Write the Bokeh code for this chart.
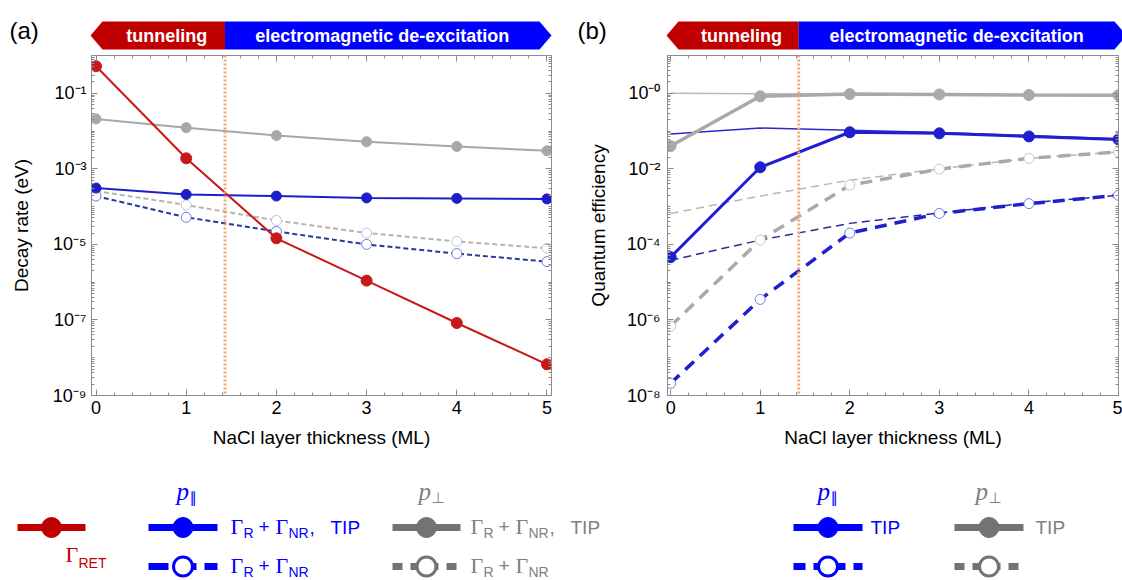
from bokeh.plotting import figure
from bokeh.models import (Range1d, Span, FixedTicker, SingleIntervalTicker,
                          CustomJSTickFormatter, LogAxis, LinearAxis)
from bokeh.layouts import column, row
from bokeh.core.properties import value
from bokeh.embed import file_html
from bokeh.resources import INLINE

# ---------------- data ----------------
layers = [0, 1, 2, 3, 4, 5]
boundary = 1.43  # tunneling / electromagnetic de-excitation boundary (ML)

# panel (a): decay rates (eV)
a_ret = [0.52, 1.9e-3, 1.45e-5, 1.1e-6, 8.3e-8, 6.7e-9]
a_perp_tip = [0.021, 0.0123, 7.6e-3, 5.2e-3, 3.9e-3, 3.0e-3]
a_par_tip = [3.1e-4, 2.1e-4, 1.9e-4, 1.7e-4, 1.65e-4, 1.6e-4]
a_perp = [2.6e-4, 1.1e-4, 4.3e-5, 2.0e-5, 1.2e-5, 7.9e-6]
a_par = [1.9e-4, 5.2e-5, 2.2e-5, 1.0e-5, 5.7e-6, 3.5e-6]

# panel (b): quantum efficiency
b_perp_tip = [0.04, 0.83, 0.95, 0.93, 0.90, 0.89]
b_par_tip = [4.6e-5, 0.011, 0.093, 0.087, 0.072, 0.060]
b_perp = [6.9e-7, 1.3e-4, 3.7e-3, 9.8e-3, 0.019, 0.028]
b_par = [2.1e-8, 3.5e-6, 2.0e-4, 6.6e-4, 1.2e-3, 2.0e-3]
b_perp_thin = [1.0, 0.97, 0.95, 0.93, 0.91, 0.89]
b_par_thin = [0.083, 0.12, 0.105, 0.092, 0.076, 0.063]
b_perp_thin_dash = [6.6e-4, 1.9e-3, 5.0e-3, 1.0e-2, 1.9e-2, 2.8e-2]
b_par_thin_dash = [3.8e-5, 1.3e-4, 3.6e-4, 6.8e-4, 1.25e-3, 2.0e-3]

a_major = [1e-9, 1e-7, 1e-5, 1e-3, 1e-1]
b_major = [1e-8, 1e-6, 1e-4, 1e-2, 1e0]

# ---------------- style ----------------
FONT = "Liberation Sans"
SERIF = "Liberation Serif"
RED = "#c00000"
BLUE = "#0000ff"
FRAME = "#8c8c8c"

fmt_code = """
const sup = {"-": "\\u207B", "0": "\\u2070", "1": "\\u00B9", "2": "\\u00B2", "3": "\\u00B3",
             "4": "\\u2074", "5": "\\u2075", "6": "\\u2076", "7": "\\u2077", "8": "\\u2078", "9": "\\u2079"};
const e = Math.round(Math.log10(tick));
const s = (e === 0) ? "-0" : String(e);
let out = "10";
for (const c of s) { out += sup[c]; }
return out;
"""


def minor_list(lo, hi):
    return [m * 10.0 ** k for k in range(lo, hi) for m in range(1, 10)]


def main_fig(width, bl, br, xr, yr, ylabel, major, lo, hi, ystand, ylstand):
    p = figure(width=width, height=405, x_range=Range1d(*xr), y_range=Range1d(*yr),
               y_axis_type="log", output_backend="svg", toolbar_location=None,
               min_border_left=bl, min_border_right=br, min_border_top=2,
               min_border_bottom=63, background_fill_color="white",
               border_fill_color="white")
    p.grid.visible = False
    p.outline_line_color = FRAME
    p.outline_line_width = 1
    xa = p.xaxis[0]
    xa.ticker = SingleIntervalTicker(interval=1, num_minor_ticks=5)
    xa.axis_label = "NaCl layer thickness (ML)"
    ya = p.yaxis[0]
    ya.ticker = FixedTicker(ticks=major, minor_ticks=minor_list(lo, hi))
    ya.formatter = CustomJSTickFormatter(code=fmt_code)
    ya.axis_label = ylabel
    for ax, st, lst in ((xa, 5, 10), (ya, ystand, ylstand)):
        ax.major_tick_in = 6
        ax.major_tick_out = 0
        ax.minor_tick_in = 3
        ax.minor_tick_out = 0
        ax.axis_line_color = FRAME
        ax.major_tick_line_color = FRAME
        ax.minor_tick_line_color = FRAME
        ax.major_label_text_font = FONT
        ax.major_label_text_font_size = "18px"
        ax.major_label_text_color = "black"
        ax.major_label_standoff = st
        ax.axis_label_text_font = FONT
        ax.axis_label_text_font_size = "19px"
        ax.axis_label_text_font_style = "normal"
        ax.axis_label_text_color = "black"
        ax.axis_label_standoff = lst
    empty = "return '';"
    top = LinearAxis(ticker=SingleIntervalTicker(interval=1, num_minor_ticks=5),
                     formatter=CustomJSTickFormatter(code=empty))
    right = LogAxis(ticker=FixedTicker(ticks=major, minor_ticks=minor_list(lo, hi)),
                    formatter=CustomJSTickFormatter(code=empty))
    for ax in (top, right):
        ax.major_tick_in = 6
        ax.major_tick_out = 0
        ax.minor_tick_in = 3
        ax.minor_tick_out = 0
        ax.axis_line_color = FRAME
        ax.major_tick_line_color = FRAME
        ax.minor_tick_line_color = FRAME
        ax.major_label_text_font_size = "0px"
        ax.major_label_standoff = 0
    p.add_layout(top, "above")
    p.add_layout(right, "right")
    p.add_layout(Span(location=boundary, dimension="height", line_color="#f5a36a",
                      line_width=3, line_dash="2 2"))
    return p


BH = 53  # banner strip height


def banner_fig(width, bl, fw, xr, label, overhang):
    b = figure(width=width, height=BH, x_range=Range1d(0, width), y_range=Range1d(BH, 0),
               min_border=0, x_axis_location=None, y_axis_location=None,
               output_backend="svg", toolbar_location=None, outline_line_color=None,
               background_fill_color="white", border_fill_color="white")
    b.grid.visible = False
    x0 = bl - 1
    x1 = bl + fw + overhang
    xb = bl + (boundary - xr[0]) / (xr[1] - xr[0]) * fw
    head = 12
    yt, ym, yb = 21, 35, 49
    b.patch([x0, x0 + head, xb, xb, x0 + head], [ym, yt, yt, yb, yb], color=RED, line_width=0)
    b.patch([xb, x1 - head, x1, x1 - head, xb], [yt, yt, ym, yb, yb], color=BLUE, line_width=0)
    b.text(x=[(x0 + head + xb) / 2 + 3, (xb + x1 - head) / 2],
           y=[ym, ym], text=["tunneling", "electromagnetic de-excitation"],
           text_color="white", text_font=value(FONT), text_font_style="bold",
           text_font_size="18px", text_align="center", text_baseline="middle")
    b.text(x=[9], y=[30], text=[label], text_color="black", text_font=value(FONT),
           text_font_size="24px", text_align="left", text_baseline="middle")
    return b


# ---------------- panel (a) ----------------
xa_range = (-0.05, 5.05)
WA, WB = 568, 554
pa = main_fig(WA, 91, 17, xa_range, (1e-9, 1.0), "Decay rate (eV)", a_major, -9, 0, 5, 18)
GA, BA, BDA, GDA, RA = "#a8a8a8", "#1e1ec8", "#28389c", "#b4b4b4", "#c81818"
pa.line(layers, a_perp, line_color=GDA, line_width=2, line_dash="5 3")
pa.scatter(layers, a_perp, marker="circle", size=10, fill_color="white",
           line_color="#c4c4d8", line_width=1)
pa.line(layers, a_par, line_color=BDA, line_width=2, line_dash="5 3")
pa.scatter(layers, a_par, marker="circle", size=10, fill_color="white",
           line_color="#6a7ae0", line_width=1)
pa.line(layers, a_perp_tip, line_color=GA, line_width=2)
pa.scatter(layers, a_perp_tip, marker="circle", size=10, color=GA)
pa.line(layers, a_par_tip, line_color=BA, line_width=2)
pa.scatter(layers, a_par_tip, marker="circle", size=10, color=BA)
pa.line(layers, a_ret, line_color=RA, line_width=2)
pa.scatter(layers, a_ret, marker="circle", size=11, color=RA)

# ---------------- panel (b) ----------------
xb_range = (-0.035, 5.0)
pb = main_fig(WB, 99, 4, xb_range, (1e-8, 10.0), "Quantum efficiency", b_major, -8, 1, 7, 15)
GB, BB = "#a9a9a9", "#1f1fd0"
pb.line(layers, b_perp_thin, line_color="#b8b8b8", line_width=1.5)
pb.line(layers, b_par_thin, line_color="#2a2ac8", line_width=1.5)
pb.line(layers, b_perp_thin_dash, line_color="#b8b8b8", line_width=1.5, line_dash="8 5")
pb.line(layers, b_par_thin_dash, line_color="#2a2aa0", line_width=1.5, line_dash="8 5")
pb.line(layers, b_perp, line_color=GB, line_width=3.5, line_dash="12 8")
pb.scatter(layers, b_perp, marker="circle", size=10, fill_color="white",
           line_color="#c8c8c8", line_width=1)
pb.line(layers, b_par, line_color=BB, line_width=3.5, line_dash="12 8")
pb.scatter(layers, b_par, marker="circle", size=10, fill_color="white",
           line_color="#7080e0", line_width=1)
pb.line(layers, b_perp_tip, line_color=GB, line_width=3.5)
pb.scatter(layers, b_perp_tip, marker="circle", size=11, color=GB)
pb.line(layers, b_par_tip, line_color=BB, line_width=3)
pb.scatter(layers, b_par_tip, marker="circle", size=11, color=BB)

# ---------------- banners ----------------
ban_a = banner_fig(WA, 91, WA - 91 - 17, xa_range, "(a)", 0)
ban_b = banner_fig(WB, 99, WB - 99 - 4, xb_range, "(b)", 8)

# ---------------- legend ----------------
LW, LH = WA + WB, 122
GL = "#737373"
GT = "#808080"
leg = figure(width=LW, height=LH, x_range=Range1d(0, LW), y_range=Range1d(LH, 0),
             min_border=0, x_axis_location=None, y_axis_location=None,
             output_backend="svg", toolbar_location=None, outline_line_color=None,
             background_fill_color="white", border_fill_color="white")
leg.grid.visible = False

R1, R2 = 69, 108  # legend row centres

# swatches: (x0, x1, y, color, dash, filled)
swatches = [
    (17, 85, R1, RED, "solid", True),
    (148, 217, R1, BLUE, "solid", True),
    (148, 217, R2, BLUE, "20 8", False),
    (392, 460, R1, GL, "solid", True),
    (392, 460, R2, GL, "10 8", False),
    (793, 862, R1, BLUE, "solid", True),
    (793, 862, R2, BLUE, "12 8", False),
    (954, 1023, R1, GL, "solid", True),
    (954, 1023, R2, GL, "10 8", False),
]
for x0, x1, y, c, d, filled in swatches:
    leg.line([x0, x1], [y, y], line_color=c, line_width=7, line_dash=d)
    if filled:
        leg.scatter([(x0 + x1) / 2], [y], marker="circle", size=20, color=c)
    else:
        leg.scatter([(x0 + x1) / 2], [y], marker="circle", size=19, fill_color="white",
                    line_color=c, line_width=3)


def txt(x, y, s, color, font=FONT, size="19px", style="normal"):
    leg.text(x=[x], y=[y], text=[s], text_color=color, text_font=value(font),
             text_font_size=size, text_font_style=style, text_align="left",
             text_baseline="middle")


# Gamma_RET
txt(65, 96, "Γ", RED, SERIF, "22px")
txt(78, 104, "RET", RED, FONT, "14px")
# polarisation headers
for xp, sub, col in ((176, "∥", BLUE), (418, "⊥", GT), (817, "∥", BLUE), (975, "⊥", GT)):
    txt(xp, 33, "p", col, SERIF, "25px", "italic")
    txt(xp + 13, 39, sub, col, "DejaVu Sans", "15px")
# Gamma_R + Gamma_NR labels
for x0, col in ((230, BLUE), (470, GT)):
    for y, with_tip in ((R1, True), (R2, False)):
        txt(x0, y - 1, "Γ", col, SERIF, "22px")
        txt(x0 + 13, y + 5, "R", col, FONT, "14px")
        txt(x0 + 28, y - 1, "+", col, FONT, "19px")
        txt(x0 + 45, y - 1, "Γ", col, SERIF, "22px")
        txt(x0 + 58, y + 5, "NR", col, FONT, "14px")
        if with_tip:
            txt(x0 + 79, y, ",", col, FONT, "19px")
            txt(x0 + 100, y, "TIP", col, FONT, "19px")
txt(870, R1, "TIP", BLUE)
txt(1035, R1, "TIP", GT)

layout = column(row(ban_a, ban_b), row(pa, pb), leg)
open("out.html", "w", encoding="utf-8").write(file_html(layout, INLINE))
